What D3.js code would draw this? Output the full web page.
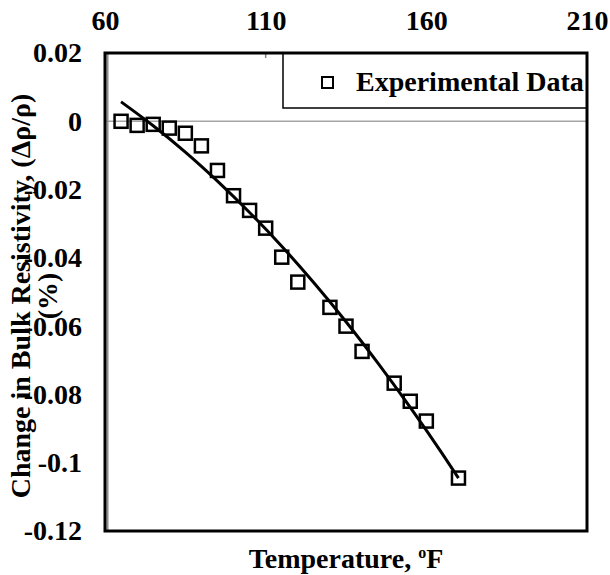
<!DOCTYPE html>
<html>
<head>
<meta charset="utf-8">
<script src="https://cdn.jsdelivr.net/npm/d3@7"></script>
<style>
    body { margin: 0; background: #fff; }
    text { font-family: "Liberation Serif", "Times New Roman", serif; font-weight: bold; fill: #000; }
</style>
</head>
<body>
<div id="chart"></div>
<script>

// measured temperatures (F) and change in bulk resistivity
var temps = [65, 70, 75, 80, 85, 90, 95, 100, 105, 110, 115, 120, 130, 135, 140, 150, 155, 160, 170];
var changes = [0.0000, -0.0012, -0.0009, -0.0020, -0.0035, -0.0072, -0.0144, -0.0218, -0.0261, -0.0313,
    -0.0398, -0.0471, -0.0545, -0.0600, -0.0674, -0.0767, -0.0820, -0.0878, -0.1045];

// trend line
var fitTemps = [65, 75, 85, 95, 105, 115, 125, 135, 145, 155, 165, 170];
var fitChanges = [0.0057, -0.0013, -0.0090, -0.0175, -0.0267, -0.0366, -0.0473, -0.0587, -0.0709, -0.0838, -0.0974, -0.1045];

var xTicks = [60, 110, 160, 210];
var yTicks = [0.02, 0, -0.02, -0.04, -0.06, -0.08, -0.1, -0.12];
var seriesName = "Experimental Data";

var margin = {top: 53, right: 23, bottom: 44, left: 105};
var width = 610, height = 575;
var plotW = width - margin.left - margin.right;
var plotH = height - margin.top - margin.bottom;
var fontSize = "28px";

var svg = d3.select("#chart").append("svg")
    .attr("width", width)
    .attr("height", height);

var g = svg.append("g")
    .attr("transform", "translate(" + margin.left + "," + margin.top + ")");

var x = d3.scaleLinear().domain([60, 210]).range([0, plotW]);
var y = d3.scaleLinear().domain([-0.12, 0.02]).range([plotH, 0]);

var points = temps.map(function(t, i){ return {t: t, v: changes[i]}; });
var fit = fitTemps.map(function(t, i){ return {t: t, v: fitChanges[i]}; });

// zero line
g.append("line")
    .attr("x1", 0).attr("x2", plotW)
    .attr("y1", y(0)).attr("y2", y(0))
    .attr("stroke", "#a6a6a6")
    .attr("stroke-width", 1.5);

// top axis (labels only, small inner ticks)
var topAxis = d3.axisTop(x)
    .tickValues(xTicks)
    .tickSize(0)
    .tickPadding(23)
    .tickFormat(d3.format("d"));

var gx = g.append("g").call(topAxis);
gx.select(".domain").remove();
gx.selectAll("text").style("font-size", fontSize);

g.selectAll(".xtick")
    .data(xTicks.slice(1, 3))
    .enter().append("line")
    .attr("class", "xtick")
    .attr("x1", function(d){ return x(d); })
    .attr("x2", function(d){ return x(d); })
    .attr("y1", 0).attr("y2", 5)
    .attr("stroke", "#808080")
    .attr("stroke-width", 1.5);

// left axis
var leftAxis = d3.axisLeft(y)
    .tickValues(yTicks)
    .tickSize(0)
    .tickPadding(23)
    .tickFormat(function(d){ return d === 0 ? "0" : String(d); });

var gy = g.append("g").call(leftAxis);
gy.select(".domain").remove();
gy.selectAll("text").style("font-size", fontSize);

// gray axis line just inside the frame
g.append("line")
    .attr("x1", 2.5).attr("x2", 2.5)
    .attr("y1", 0).attr("y2", plotH)
    .attr("stroke", "#8c8c8c")
    .attr("stroke-width", 2);

// trend line
var line = d3.line()
    .x(function(d){ return x(d.t); })
    .y(function(d){ return y(d.v); })
    .curve(d3.curveMonotoneX);

g.append("path")
    .datum(fit)
    .attr("d", line)
    .attr("fill", "none")
    .attr("stroke", "#000")
    .attr("stroke-width", 3);

// data markers
var s = 13;
g.selectAll(".pt")
    .data(points)
    .enter().append("rect")
    .attr("class", "pt")
    .attr("x", function(d){ return x(d.t) - s / 2; })
    .attr("y", function(d){ return y(d.v) - s / 2; })
    .attr("width", s)
    .attr("height", s)
    .attr("fill", "none")
    .attr("stroke", "#000")
    .attr("stroke-width", 2.5);

// legend
var lg = g.append("g").attr("transform", "translate(" + (plotW - 304) + ",0)");
lg.append("rect")
    .attr("width", 304).attr("height", 55)
    .attr("fill", "#fff")
    .attr("stroke", "#000")
    .attr("stroke-width", 1.5);
lg.append("rect")
    .attr("x", 39).attr("y", 24)
    .attr("width", 11).attr("height", 11)
    .attr("fill", "none")
    .attr("stroke", "#000")
    .attr("stroke-width", 2);
lg.append("text")
    .attr("x", 73).attr("y", 38)
    .style("font-size", fontSize)
    .text(seriesName);

// frame
g.append("rect")
    .attr("width", plotW).attr("height", plotH)
    .attr("fill", "none")
    .attr("stroke", "#000")
    .attr("stroke-width", 3);

// axis titles
var xTitle = svg.append("text")
    .attr("x", margin.left + plotW / 2)
    .attr("y", 568)
    .attr("text-anchor", "middle")
    .style("font-size", fontSize);
xTitle.append("tspan").text("Temperature, ");
xTitle.append("tspan").attr("dy", -10).style("font-size", "16px").text("o");
xTitle.append("tspan").attr("dy", 10).text("F");

var yTitle = svg.append("text")
    .attr("transform", "translate(0," + 296 + ") rotate(-90)")
    .attr("text-anchor", "middle")
    .style("font-size", fontSize);
yTitle.append("tspan").attr("x", 0).attr("y", 30).text("Change in Bulk Resistivity, (\u0394\u03c1/\u03c1)");
yTitle.append("tspan").attr("x", 0).attr("y", 57).text("(%)");

</script>
</body>
</html>
